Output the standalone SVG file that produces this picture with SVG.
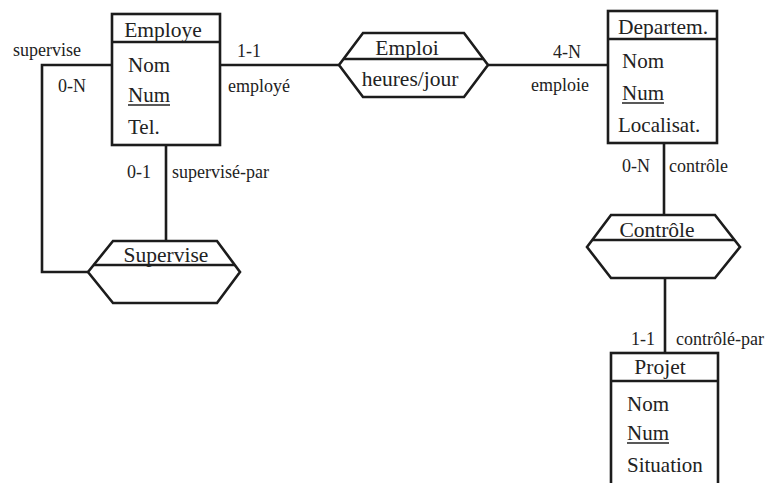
<svg xmlns="http://www.w3.org/2000/svg" width="768" height="483" viewBox="0 0 768 483" font-family="'Liberation Serif', 'DejaVu Serif', serif">
  <style>
    .shape { fill: none; stroke: #1c1c1c; stroke-width: 2.6; stroke-linejoin: miter; }
    .wire { fill: none; stroke: #1c1c1c; stroke-width: 2.6; }
    text { font-family: 'Liberation Serif', 'DejaVu Serif', serif; fill: #222; }
    .title { font-size: 21.5px; text-anchor: middle; }
    .attr { font-size: 21px; }
    .lbl { font-size: 18px; }
    .key { stroke: #222; stroke-width: 1.3; }
  </style>
  <rect width="768" height="483" fill="#ffffff"/>

  <!-- connectors with their cardinalities and roles -->
  <g id="connectors">
    <polyline class="wire" points="112,65 42,65 42,272 88,272"/>
    <line class="wire" x1="220" y1="65" x2="339" y2="65"/>
    <line class="wire" x1="488" y1="65" x2="608" y2="65"/>
    <line class="wire" x1="166" y1="145" x2="166" y2="241"/>
    <line class="wire" x1="664" y1="143" x2="664" y2="215"/>
    <line class="wire" x1="665" y1="278" x2="665" y2="353"/>

    <text class="lbl" x="13" y="56">supervise</text>
    <text class="lbl" x="58" y="92">0-N</text>
    <text class="lbl" x="237" y="57">1-1</text>
    <text class="lbl" x="228" y="92">employé</text>
    <text class="lbl" x="553" y="58">4-N</text>
    <text class="lbl" x="531" y="91">emploie</text>
    <text class="lbl" x="127" y="178">0-1</text>
    <text class="lbl" x="172" y="178">supervisé-par</text>
    <text class="lbl" x="622" y="172">0-N</text>
    <text class="lbl" x="669" y="172">contrôle</text>
    <text class="lbl" x="631" y="345">1-1</text>
    <text class="lbl" x="676" y="345">contrôlé-par</text>
  </g>

  <!-- entity: Employe -->
  <g id="employe">
    <rect class="shape" x="112" y="14" width="108" height="131"/>
    <line class="shape" x1="112" y1="42" x2="220" y2="42"/>
    <text class="title" x="163" y="37">Employe</text>
    <text class="attr" x="128" y="72">Nom</text>
    <text class="attr" x="128" y="102">Num</text>
    <line class="key" x1="128" y1="105" x2="170" y2="105"/>
    <text class="attr" x="128" y="134">Tel.</text>
  </g>

  <!-- entity: Departem. -->
  <g id="departem">
    <rect class="shape" x="608" y="11" width="109" height="132"/>
    <line class="shape" x1="608" y1="39" x2="717" y2="39"/>
    <text class="title" x="663" y="34">Departem.</text>
    <text class="attr" x="622" y="68">Nom</text>
    <text class="attr" x="622" y="100">Num</text>
    <line class="key" x1="622" y1="103" x2="664" y2="103"/>
    <text class="attr" x="618" y="132">Localisat.</text>
  </g>

  <!-- entity: Projet -->
  <g id="projet">
    <rect class="shape" x="611" y="353" width="107" height="140"/>
    <line class="shape" x1="611" y1="381" x2="718" y2="381"/>
    <text class="title" x="660" y="374">Projet</text>
    <text class="attr" x="627" y="411">Nom</text>
    <text class="attr" x="627" y="440">Num</text>
    <line class="key" x1="627" y1="443" x2="669" y2="443"/>
    <text class="attr" x="627" y="472">Situation</text>
  </g>

  <!-- relationship: Emploi -->
  <g id="emploi">
    <polygon class="shape" points="339,65 363,33 464,33 488,65 464,97 363,97"/>
    <line class="shape" x1="343.5" y1="59" x2="483.5" y2="59"/>
    <text class="title" x="407" y="55">Emploi</text>
    <text class="title" x="410" y="86">heures/jour</text>
  </g>

  <!-- relationship: Supervise -->
  <g id="supervise">
    <polygon class="shape" points="88,272 113,241 217,241 240,272 217,303 113,303"/>
    <line class="shape" x1="93.6" y1="265" x2="234.8" y2="265"/>
    <text class="title" x="166" y="262">Supervise</text>
  </g>

  <!-- relationship: Contrôle -->
  <g id="controle">
    <polygon class="shape" points="587,247 611,215 715,215 740,247 715,278 611,278"/>
    <line class="shape" x1="592.3" y1="240" x2="734.5" y2="240"/>
    <text class="title" x="657" y="237">Contrôle</text>
  </g>
</svg>
